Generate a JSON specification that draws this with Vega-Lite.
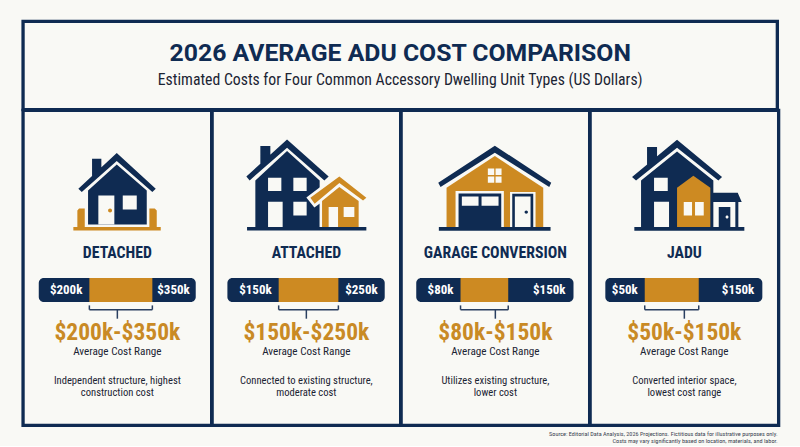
{"$schema":"https://vega.github.io/schema/vega-lite/v6.json","background":"#F9F9F5","padding":{"left":21.05,"top":19.4,"right":22,"bottom":0},"bounds":"flush","spacing":0,
"config":{"axis":{"disable":true},"view":{"stroke":"#0F2B52","strokeWidth":3.3},"concat":{"spacing":0},"text":{"font":"Roboto Condensed, Roboto","lineBreak":"\n"}},
"datasets":{"adu":[
{"type":"DETACHED","low":200,"high":350,"lowLabel":"$200k","highLabel":"$350k","range":"$200k-$350k","caption":"Average Cost Range","note":"Independent structure, highest\nconstruction cost"},
{"type":"ATTACHED","low":150,"high":250,"lowLabel":"$150k","highLabel":"$250k","range":"$150k-$250k","caption":"Average Cost Range","note":"Connected to existing structure,\nmoderate cost"},
{"type":"GARAGE CONVERSION","low":80,"high":150,"lowLabel":"$80k","highLabel":"$150k","range":"$80k-$150k","caption":"Average Cost Range","note":"Utilizes existing structure,\nlower cost"},
{"type":"JADU","low":50,"high":150,"lowLabel":"$50k","highLabel":"$150k","range":"$50k-$150k","caption":"Average Cost Range","note":"Converted interior space,\nlowest cost range"}],
"header":[{"title":"2026 AVERAGE ADU COST COMPARISON","subtitle":"Estimated Costs for Four Common Accessory Dwelling Unit Types (US Dollars)","source":"Source: Editorial Data Analysis, 2026 Projections. Fictitious data for illustrative purposes only.\nCosts may vary significantly based on location, materials, and labor."}]},
"vconcat":[
{"width":754.3,"height":88.3,"data":{"name":"header"},"layer":[
{"mark":{"type":"text","font":"Roboto","fontWeight":"bold","fontSize":24.8,"color":"#0F2B52"},"encoding":{"text":{"field":"title"},"x":{"datum":0.5,"type":"quantitative","scale":{"domain":[0,1]}},"y":{"datum":32.5,"type":"quantitative","scale":{"domain":[88.3,0],"nice":false,"zero":false}}}},
{"mark":{"type":"text","fontSize":15.75,"color":"#1B2433"},"encoding":{"text":{"field":"subtitle"},"x":{"datum":0.5,"type":"quantitative"},"y":{"datum":58.5,"type":"quantitative"}}}]},
{"bounds":"flush","spacing":0,"hconcat":[
{"width":188.6,"height":315,"data":{"name":"adu"},"transform":[{"filter":"datum.type==='DETACHED'"}],"layer":[
{"mark":{"type":"point","filled":true,"opacity":1,"size":4,"color":"#0F2B52","shape":"M93.7 42.7L132.7 78.3L129.3 81.7L93.7 50.7L58.7 81.7L55.3 78.3ZM69 48.3H78.3V58L69 66ZM93.7 54L123.7 80V114H65V80Z"},"encoding":{"x":{"datum":42.1,"type":"quantitative","scale":{"domain":[42.1,491.2],"nice":false,"zero":false}},"y":{"datum":0,"type":"quantitative","scale":{"domain":[315,0],"nice":false,"zero":false}}}},
{"mark":{"type":"point","filled":true,"opacity":1,"size":4,"color":"#F9F9F5","shape":"M75.3 85H91.3V114H75.3ZM99.7 85H113.7V99H99.7Z"},"encoding":{"x":{"datum":42.1,"type":"quantitative"},"y":{"datum":0,"type":"quantitative"}}},
{"mark":{"type":"point","filled":true,"opacity":1,"size":4,"color":"#CD8A22","shape":"M50.3 116.7H137.7V120H50.3ZM54.3 116.7V100L56 98H61.7V116.7ZM126.3 98H131.7L133.7 100V116.7H126.3ZM85 100a2 2 0 1 0 4 0a2 2 0 1 0 -4 0Z"},"encoding":{"x":{"datum":42.1,"type":"quantitative"},"y":{"datum":0,"type":"quantitative"}}},
{"mark":{"type":"text","fontWeight":"bold","fontSize":15.8,"color":"#0F2B52"},"encoding":{"text":{"field":"type"},"x":{"datum":266.65,"type":"quantitative"},"y":{"datum":142.7,"type":"quantitative"}}},
{"mark":{"type":"rect","color":"#0F2B52","cornerRadius":5},"encoding":{"x":{"datum":79.5,"type":"quantitative"},"x2":{"datum":453.3},"y":{"datum":167.7,"type":"quantitative"},"y2":{"datum":191.7}}},
{"mark":{"type":"rect","color":"#CD8A22"},"encoding":{"x":{"field":"low","type":"quantitative"},"x2":{"field":"high"},"y":{"datum":167.7,"type":"quantitative"},"y2":{"datum":191.7}}},
{"mark":{"type":"text","fontWeight":"bold","fontSize":13,"color":"#FFFFFF","align":"right","dx":-7},"encoding":{"text":{"field":"lowLabel"},"x":{"field":"low","type":"quantitative"},"y":{"datum":179.7,"type":"quantitative"}}},
{"mark":{"type":"text","fontWeight":"bold","fontSize":13,"color":"#FFFFFF","align":"right","dx":-6},"encoding":{"text":{"field":"highLabel"},"x":{"datum":453.3,"type":"quantitative"},"y":{"datum":179.7,"type":"quantitative"}}},
{"mark":{"type":"rule","color":"#2A3F60","strokeWidth":1.5},"encoding":{"x":{"field":"low","type":"quantitative"},"x2":{"field":"high"},"y":{"datum":199.3,"type":"quantitative"}}},
{"mark":{"type":"rule","color":"#2A3F60","strokeWidth":1.5},"encoding":{"x":{"field":"low","type":"quantitative"},"y":{"datum":195,"type":"quantitative"},"y2":{"datum":199.3}}},
{"mark":{"type":"rule","color":"#2A3F60","strokeWidth":1.5},"encoding":{"x":{"field":"high","type":"quantitative"},"y":{"datum":195,"type":"quantitative"},"y2":{"datum":199.3}}},
{"mark":{"type":"rule","color":"#2A3F60","strokeWidth":1.5},"encoding":{"x":{"datum":266.65,"type":"quantitative"},"y":{"datum":199.3,"type":"quantitative"},"y2":{"datum":208.3}}},
{"mark":{"type":"text","fontWeight":"bold","fontSize":23.5,"color":"#C98A25"},"encoding":{"text":{"field":"range"},"x":{"datum":266.65,"type":"quantitative"},"y":{"datum":222.7,"type":"quantitative"}}},
{"mark":{"type":"text","fontSize":11.2,"color":"#1B2433"},"encoding":{"text":{"field":"caption"},"x":{"datum":266.65,"type":"quantitative"},"y":{"datum":241.7,"type":"quantitative"}}},
{"mark":{"type":"text","fontSize":10.6,"color":"#1B2433","lineHeight":12},"encoding":{"text":{"field":"note"},"x":{"datum":266.65,"type":"quantitative"},"y":{"datum":270.6,"type":"quantitative"}}}]},
{"width":188.6,"height":315,"data":{"name":"adu"},"transform":[{"filter":"datum.type==='ATTACHED'"}],"layer":[
{"mark":{"type":"point","filled":true,"opacity":1,"size":4,"color":"#0F2B52","shape":"M75 29L116.6 66L112.3 70L75 37.3L37.6 70L34.3 66ZM48.3 35.7H58.3V46L48.3 55ZM75 40.7L107.6 70V116.7H43.3V70ZM35 116.7H154.3V120H35Z"},"encoding":{"x":{"datum":38.4,"type":"quantitative","scale":{"domain":[38.4,354.3],"nice":false,"zero":false}},"y":{"datum":0,"type":"quantitative","scale":{"domain":[315,0],"nice":false,"zero":false}}}},
{"mark":{"type":"point","filled":true,"opacity":1,"size":4,"color":"#F9F9F5","shape":"M56 67.3H69.3V80.7H56ZM81.3 67.3H94.6V80.7H81.3ZM56 91.3H70.6V116.7H56ZM81.3 91.3H94.6V105H81.3ZM127.3 62L94.3 87L102.3 97L107.8 93V116.7H133.3V62Z"},"encoding":{"x":{"datum":38.4,"type":"quantitative"},"y":{"datum":0,"type":"quantitative"}}},
{"mark":{"type":"point","filled":true,"opacity":1,"size":4,"color":"#CD8A22","shape":"M127.3 66L154.3 87.3L151 90L127.3 72.7L102.6 93.3L98.3 87.3ZM127.3 76.7L146.6 90.5V116.7H110V90.5Z"},"encoding":{"x":{"datum":38.4,"type":"quantitative"},"y":{"datum":0,"type":"quantitative"}}},
{"mark":{"type":"point","filled":true,"opacity":1,"size":4,"color":"#F9F9F5","shape":"M116.6 96.7H126V116.7H116.6ZM131.6 96.7H142.3V106.7H131.6Z"},"encoding":{"x":{"datum":38.4,"type":"quantitative"},"y":{"datum":0,"type":"quantitative"}}},
{"mark":{"type":"text","fontWeight":"bold","fontSize":15.8,"color":"#0F2B52"},"encoding":{"text":{"field":"type"},"x":{"datum":196.35,"type":"quantitative"},"y":{"datum":142.7,"type":"quantitative"}}},
{"mark":{"type":"rect","color":"#0F2B52","cornerRadius":5},"encoding":{"x":{"datum":64.1,"type":"quantitative"},"x2":{"datum":327.6},"y":{"datum":167.7,"type":"quantitative"},"y2":{"datum":191.7}}},
{"mark":{"type":"rect","color":"#CD8A22"},"encoding":{"x":{"field":"low","type":"quantitative"},"x2":{"field":"high"},"y":{"datum":167.7,"type":"quantitative"},"y2":{"datum":191.7}}},
{"mark":{"type":"text","fontWeight":"bold","fontSize":13,"color":"#FFFFFF","align":"right","dx":-7},"encoding":{"text":{"field":"lowLabel"},"x":{"field":"low","type":"quantitative"},"y":{"datum":179.7,"type":"quantitative"}}},
{"mark":{"type":"text","fontWeight":"bold","fontSize":13,"color":"#FFFFFF","align":"right","dx":-7},"encoding":{"text":{"field":"highLabel"},"x":{"datum":327.6,"type":"quantitative"},"y":{"datum":179.7,"type":"quantitative"}}},
{"mark":{"type":"rule","color":"#2A3F60","strokeWidth":1.5},"encoding":{"x":{"field":"low","type":"quantitative"},"x2":{"field":"high"},"y":{"datum":199.3,"type":"quantitative"}}},
{"mark":{"type":"rule","color":"#2A3F60","strokeWidth":1.5},"encoding":{"x":{"field":"low","type":"quantitative"},"y":{"datum":195,"type":"quantitative"},"y2":{"datum":199.3}}},
{"mark":{"type":"rule","color":"#2A3F60","strokeWidth":1.5},"encoding":{"x":{"field":"high","type":"quantitative"},"y":{"datum":195,"type":"quantitative"},"y2":{"datum":199.3}}},
{"mark":{"type":"rule","color":"#2A3F60","strokeWidth":1.5},"encoding":{"x":{"datum":196.35,"type":"quantitative"},"y":{"datum":199.3,"type":"quantitative"},"y2":{"datum":208.3}}},
{"mark":{"type":"text","fontWeight":"bold","fontSize":23.5,"color":"#C98A25"},"encoding":{"text":{"field":"range"},"x":{"datum":196.35,"type":"quantitative"},"y":{"datum":222.7,"type":"quantitative"}}},
{"mark":{"type":"text","fontSize":11.2,"color":"#1B2433"},"encoding":{"text":{"field":"caption"},"x":{"datum":196.35,"type":"quantitative"},"y":{"datum":241.7,"type":"quantitative"}}},
{"mark":{"type":"text","fontSize":10.6,"color":"#1B2433","lineHeight":12},"encoding":{"text":{"field":"note"},"x":{"datum":196.35,"type":"quantitative"},"y":{"datum":270.6,"type":"quantitative"}}}]},
{"width":188.6,"height":315,"data":{"name":"adu"},"transform":[{"filter":"datum.type==='GARAGE CONVERSION'"}],"layer":[
{"mark":{"type":"point","filled":true,"opacity":1,"size":4,"color":"#0F2B52","shape":"M93.8 35.3L150.2 72.3L148.2 76.7L93.8 42.3L39.5 76.7L37.2 72.3ZM37.8 116.7H149.5V120.3H37.8Z"},"encoding":{"x":{"datum":-7.3,"type":"quantitative","scale":{"domain":[-7.3,269.5],"nice":false,"zero":false}},"y":{"datum":0,"type":"quantitative","scale":{"domain":[315,0],"nice":false,"zero":false}}}},
{"mark":{"type":"point","filled":true,"opacity":1,"size":4,"color":"#CD8A22","shape":"M93.8 45.7L142.2 77.3V116.7H45.5V77.3Z"},"encoding":{"x":{"datum":-7.3,"type":"quantitative"},"y":{"datum":0,"type":"quantitative"}}},
{"mark":{"type":"point","filled":true,"opacity":1,"size":4,"color":"#F9F9F5","shape":"M86.8 58H93.2V64.7H86.8ZM94.5 58H100.5V64.7H94.5ZM86.8 66H93.2V72.3H86.8ZM94.5 66H100.5V72.3H94.5ZM54.5 80.7H102.8V116.7H54.5ZM109 81.5H134.5V116.7H109Z"},"encoding":{"x":{"datum":-7.3,"type":"quantitative"},"y":{"datum":0,"type":"quantitative"}}},
{"mark":{"type":"point","filled":true,"opacity":1,"size":4,"color":"#0F2B52","shape":"M57.5 83H100.2V116.7H57.5ZM111.2 83.3H132.2V116.7H111.2Z"},"encoding":{"x":{"datum":-7.3,"type":"quantitative"},"y":{"datum":0,"type":"quantitative"}}},
{"mark":{"type":"point","filled":true,"opacity":1,"size":4,"color":"#F9F9F5","shape":"M60.8 86H77.5V95.3H60.8ZM80.5 86H97.5V95.3H80.5ZM113.8 86H129.5V116.7H113.8Z"},"encoding":{"x":{"datum":-7.3,"type":"quantitative"},"y":{"datum":0,"type":"quantitative"}}},
{"mark":{"type":"point","filled":true,"opacity":1,"size":4,"color":"#0F2B52","shape":"M123.5 101.7a1.7 1.7 0 1 0 3.4 0a1.7 1.7 0 1 0 -3.4 0Z"},"encoding":{"x":{"datum":-7.3,"type":"quantitative"},"y":{"datum":0,"type":"quantitative"}}},
{"mark":{"type":"text","fontWeight":"bold","fontSize":15.8,"color":"#0F2B52"},"encoding":{"text":{"field":"type"},"x":{"datum":131.1,"type":"quantitative"},"y":{"datum":142.7,"type":"quantitative"}}},
{"mark":{"type":"rect","color":"#0F2B52","cornerRadius":5},"encoding":{"x":{"datum":15,"type":"quantitative"},"x2":{"datum":245.8},"y":{"datum":167.7,"type":"quantitative"},"y2":{"datum":191.7}}},
{"mark":{"type":"rect","color":"#CD8A22"},"encoding":{"x":{"field":"low","type":"quantitative"},"x2":{"field":"high"},"y":{"datum":167.7,"type":"quantitative"},"y2":{"datum":191.7}}},
{"mark":{"type":"text","fontWeight":"bold","fontSize":13,"color":"#FFFFFF","align":"right","dx":-7},"encoding":{"text":{"field":"lowLabel"},"x":{"field":"low","type":"quantitative"},"y":{"datum":179.7,"type":"quantitative"}}},
{"mark":{"type":"text","fontWeight":"bold","fontSize":13,"color":"#FFFFFF","align":"right","dx":-8},"encoding":{"text":{"field":"highLabel"},"x":{"datum":245.8,"type":"quantitative"},"y":{"datum":179.7,"type":"quantitative"}}},
{"mark":{"type":"rule","color":"#2A3F60","strokeWidth":1.5},"encoding":{"x":{"field":"low","type":"quantitative"},"x2":{"field":"high"},"y":{"datum":199.3,"type":"quantitative"}}},
{"mark":{"type":"rule","color":"#2A3F60","strokeWidth":1.5},"encoding":{"x":{"field":"low","type":"quantitative"},"y":{"datum":195,"type":"quantitative"},"y2":{"datum":199.3}}},
{"mark":{"type":"rule","color":"#2A3F60","strokeWidth":1.5},"encoding":{"x":{"field":"high","type":"quantitative"},"y":{"datum":195,"type":"quantitative"},"y2":{"datum":199.3}}},
{"mark":{"type":"rule","color":"#2A3F60","strokeWidth":1.5},"encoding":{"x":{"datum":131.1,"type":"quantitative"},"y":{"datum":199.3,"type":"quantitative"},"y2":{"datum":208.3}}},
{"mark":{"type":"text","fontWeight":"bold","fontSize":23.5,"color":"#C98A25"},"encoding":{"text":{"field":"range"},"x":{"datum":131.1,"type":"quantitative"},"y":{"datum":222.7,"type":"quantitative"}}},
{"mark":{"type":"text","fontSize":11.2,"color":"#1B2433"},"encoding":{"text":{"field":"caption"},"x":{"datum":131.1,"type":"quantitative"},"y":{"datum":241.7,"type":"quantitative"}}},
{"mark":{"type":"text","fontSize":10.6,"color":"#1B2433","lineHeight":12},"encoding":{"text":{"field":"note"},"x":{"datum":131.1,"type":"quantitative"},"y":{"datum":270.6,"type":"quantitative"}}}]},
{"width":188.6,"height":315,"data":{"name":"adu"},"transform":[{"filter":"datum.type==='JADU'"}],"layer":[
{"mark":{"type":"point","filled":true,"opacity":1,"size":4,"color":"#0F2B52","shape":"M87 29.3L132 66.7L128.3 70L87 37.3L46 70L42 66.7ZM57 36.7H67V47L57 56ZM87 41L123.3 70V116.7H51V70ZM44.3 116.7H154.3V120.3H44.3ZM123.3 82.3H147.7L151.7 91.7H123.3ZM145.3 91.7H148.3V116.7H145.3ZM128.7 96.7H140.3V116.7H128.7Z"},"encoding":{"x":{"datum":-51.3,"type":"quantitative","scale":{"domain":[-51.3,298],"nice":false,"zero":false}},"y":{"datum":0,"type":"quantitative","scale":{"domain":[315,0],"nice":false,"zero":false}}}},
{"mark":{"type":"point","filled":true,"opacity":1,"size":4,"color":"#CD8A22","shape":"M103.3 65.3L120.3 77.3V116.7H87V77.3Z"},"encoding":{"x":{"datum":-51.3,"type":"quantitative"},"y":{"datum":0,"type":"quantitative"}}},
{"mark":{"type":"point","filled":true,"opacity":1,"size":4,"color":"#F9F9F5","shape":"M64 67.3H77.7V80.7H64ZM64 91.3H79V116.7H64ZM93.7 91.7H102V105H93.7ZM105 91.7H113.7V105H105ZM135.5 106.7a1.5 1.5 0 1 0 3 0a1.5 1.5 0 1 0 -3 0Z"},"encoding":{"x":{"datum":-51.3,"type":"quantitative"},"y":{"datum":0,"type":"quantitative"}}},
{"mark":{"type":"text","fontWeight":"bold","fontSize":15.8,"color":"#0F2B52"},"encoding":{"text":{"field":"type"},"x":{"datum":123.35,"type":"quantitative"},"y":{"datum":142.7,"type":"quantitative"}}},
{"mark":{"type":"rect","color":"#0F2B52","cornerRadius":5},"encoding":{"x":{"datum":-23,"type":"quantitative"},"x2":{"datum":267.8},"y":{"datum":167.7,"type":"quantitative"},"y2":{"datum":191.7}}},
{"mark":{"type":"rect","color":"#CD8A22"},"encoding":{"x":{"field":"low","type":"quantitative"},"x2":{"field":"high"},"y":{"datum":167.7,"type":"quantitative"},"y2":{"datum":191.7}}},
{"mark":{"type":"text","fontWeight":"bold","fontSize":13,"color":"#FFFFFF","align":"right","dx":-7},"encoding":{"text":{"field":"lowLabel"},"x":{"field":"low","type":"quantitative"},"y":{"datum":179.7,"type":"quantitative"}}},
{"mark":{"type":"text","fontWeight":"bold","fontSize":13,"color":"#FFFFFF","align":"right","dx":-8},"encoding":{"text":{"field":"highLabel"},"x":{"datum":267.8,"type":"quantitative"},"y":{"datum":179.7,"type":"quantitative"}}},
{"mark":{"type":"rule","color":"#2A3F60","strokeWidth":1.5},"encoding":{"x":{"field":"low","type":"quantitative"},"x2":{"field":"high"},"y":{"datum":199.3,"type":"quantitative"}}},
{"mark":{"type":"rule","color":"#2A3F60","strokeWidth":1.5},"encoding":{"x":{"field":"low","type":"quantitative"},"y":{"datum":195,"type":"quantitative"},"y2":{"datum":199.3}}},
{"mark":{"type":"rule","color":"#2A3F60","strokeWidth":1.5},"encoding":{"x":{"field":"high","type":"quantitative"},"y":{"datum":195,"type":"quantitative"},"y2":{"datum":199.3}}},
{"mark":{"type":"rule","color":"#2A3F60","strokeWidth":1.5},"encoding":{"x":{"datum":123.35,"type":"quantitative"},"y":{"datum":199.3,"type":"quantitative"},"y2":{"datum":208.3}}},
{"mark":{"type":"text","fontWeight":"bold","fontSize":23.5,"color":"#C98A25"},"encoding":{"text":{"field":"range"},"x":{"datum":123.35,"type":"quantitative"},"y":{"datum":222.7,"type":"quantitative"}}},
{"mark":{"type":"text","fontSize":11.2,"color":"#1B2433"},"encoding":{"text":{"field":"caption"},"x":{"datum":123.35,"type":"quantitative"},"y":{"datum":241.7,"type":"quantitative"}}},
{"mark":{"type":"text","fontSize":10.6,"color":"#1B2433","lineHeight":12},"encoding":{"text":{"field":"note"},"x":{"datum":123.35,"type":"quantitative"},"y":{"datum":270.6,"type":"quantitative"}}},
{"data":{"name":"header"},"mark":{"type":"text","fontSize":6.2,"color":"#3A4452","align":"right","lineHeight":7.3,"dx":-1},"encoding":{"text":{"field":"source"},"x":{"datum":298,"type":"quantitative"},"y":{"datum":323.8,"type":"quantitative"}}}]}
]}
]}
